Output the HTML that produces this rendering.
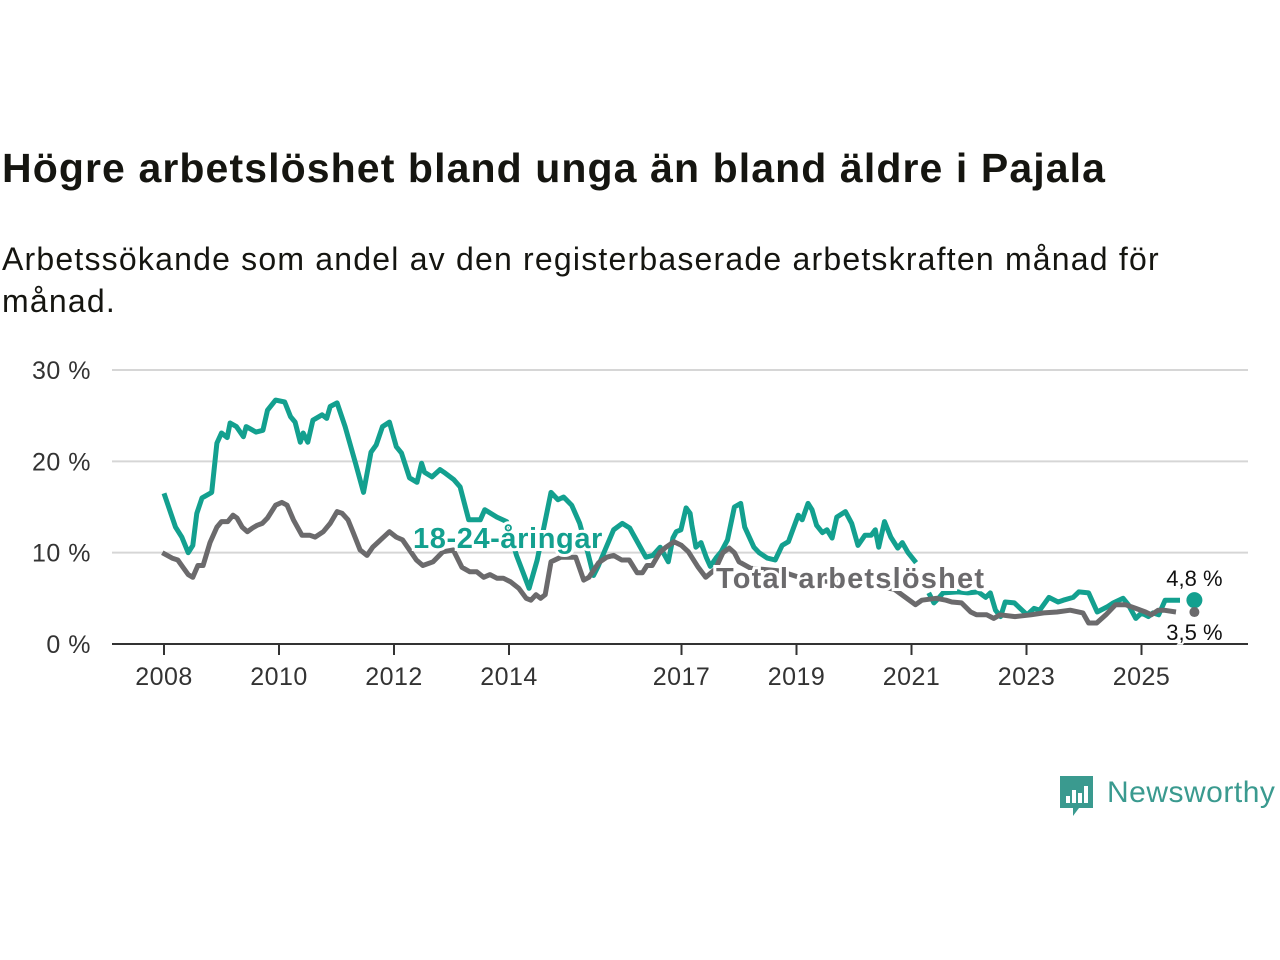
<!DOCTYPE html>
<html><head><meta charset="utf-8"><style>
body{margin:0;background:#fff;width:1280px;height:960px;overflow:hidden;font-family:"Liberation Sans","DejaVu Sans",sans-serif}
#title{position:absolute;left:2px;top:145px;font-size:41px;letter-spacing:1.1px;font-weight:bold;color:#151510;margin:0;white-space:nowrap}
#sub{position:absolute;left:2px;top:238px;font-size:32px;letter-spacing:1.2px;color:#151510;line-height:42px;width:1200px;margin:0}
svg{position:absolute;left:0;top:0}
</style></head><body>
<h1 id="title">Högre arbetslöshet bland unga än bland äldre i Pajala</h1>
<p id="sub">Arbetssökande som andel av den registerbaserade arbetskraften månad för<br>månad.</p>
<svg id="chart" width="1280" height="960"></svg>
<script>
const yTicks=[0,10,20,30];
const xTicks=[2008,2010,2012,2014,2017,2019,2021,2023,2025];
const youthX=[2008.0,2008.2,2008.31,2008.42,2008.5,2008.57,2008.66,2008.83,2008.92,2009.0,2009.1,2009.15,2009.26,2009.38,2009.43,2009.6,2009.72,2009.8,2009.94,2010.1,2010.2,2010.28,2010.37,2010.42,2010.5,2010.59,2010.75,2010.83,2010.89,2011.01,2011.15,2011.33,2011.47,2011.6,2011.69,2011.8,2011.92,2012.04,2012.13,2012.27,2012.4,2012.48,2012.53,2012.66,2012.8,2012.87,2013.04,2013.15,2013.3,2013.5,2013.58,2013.79,2013.96,2014.13,2014.35,2014.49,2014.73,2014.85,2014.95,2015.09,2015.23,2015.37,2015.47,2015.55,2015.65,2015.82,2015.97,2016.1,2016.24,2016.38,2016.5,2016.63,2016.77,2016.85,2016.91,2016.99,2017.08,2017.15,2017.18,2017.25,2017.34,2017.43,2017.5,2017.61,2017.69,2017.8,2017.92,2018.03,2018.1,2018.26,2018.35,2018.49,2018.63,2018.75,2018.86,2019.03,2019.1,2019.2,2019.27,2019.35,2019.45,2019.53,2019.62,2019.7,2019.85,2019.96,2020.07,2020.19,2020.3,2020.37,2020.43,2020.53,2020.64,2020.76,2020.84,2020.94,2021.08,null,2021.3,2021.39,2021.47,2021.55,2021.81,2021.98,2022.16,2022.29,2022.37,2022.46,2022.55,2022.63,2022.79,2022.89,2023.01,2023.13,2023.23,2023.39,2023.55,2023.64,2023.81,2023.91,2024.08,2024.23,2024.41,2024.51,2024.68,2024.77,2024.9,2025.0,2025.12,2025.2,2025.3,2025.41,2025.55,2025.67,2025.8,2025.92];
const youthY=[16.5,12.8,11.7,10.0,10.8,14.3,16.0,16.6,22.0,23.1,22.6,24.2,23.8,22.7,23.8,23.2,23.4,25.6,26.7,26.5,24.9,24.3,22.1,23.1,22.1,24.5,25.1,24.7,26.0,26.4,23.8,19.8,16.6,21.0,21.8,23.8,24.3,21.6,20.9,18.2,17.7,19.8,18.8,18.3,19.1,18.8,18.0,17.2,13.6,13.6,14.7,13.9,13.4,9.7,6.1,9.2,16.6,15.8,16.1,15.2,13.2,10.0,7.5,8.5,10.0,12.5,13.2,12.7,11.1,9.5,9.7,10.6,9.0,11.6,12.3,12.5,14.9,14.3,13.0,10.6,11.1,9.5,8.5,9.5,10.1,11.4,15.0,15.4,12.8,10.6,10.0,9.4,9.2,10.8,11.2,14.1,13.6,15.4,14.7,13.0,12.2,12.5,11.6,13.9,14.5,13.2,10.8,11.9,11.9,12.5,10.6,13.4,11.7,10.5,11.1,10.0,8.9,null,5.6,4.5,5.0,5.6,5.7,5.6,5.7,5.1,5.6,3.7,3.0,4.6,4.5,3.9,3.2,3.9,3.7,5.1,4.6,4.8,5.1,5.7,5.6,3.5,4.1,4.5,5.0,4.3,2.8,3.4,3.0,3.4,3.2,4.8,4.8,4.8];
const totalX=[2007.97,2008.14,2008.24,2008.33,2008.42,2008.5,2008.59,2008.68,2008.8,2008.92,2009.0,2009.11,2009.2,2009.27,2009.36,2009.45,2009.54,2009.62,2009.71,2009.8,2009.94,2010.05,2010.14,2010.25,2010.4,2010.54,2010.63,2010.77,2010.89,2011.01,2011.1,2011.2,2011.29,2011.41,2011.53,2011.63,2011.8,2011.92,2012.04,2012.15,2012.27,2012.39,2012.5,2012.68,2012.85,2013.03,2013.18,2013.32,2013.44,2013.56,2013.67,2013.79,2013.9,2014.03,2014.17,2014.3,2014.38,2014.47,2014.55,2014.63,2014.73,2014.9,2015.16,2015.3,2015.39,2015.56,2015.7,2015.82,2015.96,2016.09,2016.23,2016.32,2016.4,2016.49,2016.62,2016.73,2016.87,2017.0,2017.12,2017.29,2017.42,2017.59,2017.72,2017.83,2017.92,2018.0,2018.2,2018.7,2019.2,2019.7,2020.2,2020.7,2021.07,2021.18,2021.43,2021.6,2021.7,2021.87,2022.03,2022.13,2022.31,2022.43,2022.54,2022.8,2023.08,2023.3,2023.53,2023.76,2023.98,2024.08,2024.22,2024.38,2024.55,2024.72,2024.9,2025.07,2025.17,2025.29,2025.39,2025.6,2025.92];
const totalY=[10.0,9.4,9.2,8.4,7.6,7.3,8.6,8.6,11.1,12.8,13.4,13.4,14.1,13.8,12.8,12.3,12.7,13.0,13.2,13.8,15.2,15.5,15.2,13.6,11.9,11.9,11.7,12.3,13.2,14.5,14.3,13.6,12.2,10.3,9.7,10.6,11.6,12.3,11.7,11.4,10.3,9.2,8.6,9.0,10.1,10.3,8.4,7.9,7.9,7.3,7.6,7.2,7.2,6.8,6.1,5.0,4.8,5.4,5.0,5.4,9.0,9.5,9.5,7.0,7.3,8.9,9.5,9.7,9.2,9.2,7.8,7.8,8.6,8.6,10.0,10.6,11.2,10.8,10.1,8.4,7.3,8.2,10.0,10.5,10.0,9.0,8.3,8.0,7.0,6.8,6.5,6.0,4.3,4.8,5.0,4.8,4.6,4.5,3.5,3.2,3.2,2.8,3.2,3.0,3.2,3.4,3.5,3.7,3.4,2.3,2.3,3.2,4.3,4.3,3.9,3.5,3.2,3.7,3.7,3.5];
const svg=document.getElementById('chart');
const NS='http://www.w3.org/2000/svg';
const X=v=>164+(v-2008)*57.5;
const Y=v=>644-v*9.133;
function mk(tag,attrs,parent){const e=document.createElementNS(NS,tag);for(const k in attrs)e.setAttribute(k,attrs[k]);(parent||svg).appendChild(e);return e;}
yTicks.forEach(t=>{
  if(t>0){const g=mk('line',{x1:112,x2:1248,y1:Y(t),y2:Y(t),stroke:'#d6d6d6','stroke-width':2});
  
  }
  const l=mk('text',{x:91,y:Y(t)+9,'text-anchor':'end','font-size':25,'letter-spacing':0.5,fill:'#333'});l.textContent=t+' %';
  
  
});
xTicks.forEach(t=>{
  const tk=mk('line',{x1:X(t),x2:X(t),y1:644,y2:655,stroke:'#333','stroke-width':2});
  
  
  const l=mk('text',{x:X(t),y:685,'text-anchor':'middle','font-size':25,'letter-spacing':0.5,fill:'#333'});l.textContent=t;
  
  
});
const ax=mk('line',{x1:112,x2:1248,y1:644,y2:644,stroke:'#333','stroke-width':2});


function path(xs,ys){let d='',pen=false;for(let i=0;i<xs.length;i++){if(xs[i]===null||ys[i]===null){pen=false;continue;}d+=(pen?'L':'M')+X(xs[i]).toFixed(1)+','+Y(ys[i]).toFixed(1);pen=true;}return d;}
const py=mk('path',{d:path(youthX,youthY),fill:'none',stroke:'#13a08f','stroke-width':5,'stroke-linejoin':'round'});


const pt=mk('path',{d:path(totalX,totalY),fill:'none',stroke:'#6b6a6c','stroke-width':5,'stroke-linejoin':'round'});


const lx=youthX[youthX.length-1],ly=youthY[youthY.length-1];
const dy=mk('circle',{cx:X(lx),cy:Y(ly),r:8,fill:'#13a08f'});


const tx=totalX[totalX.length-1],ty=totalY[totalY.length-1];
const dt=mk('circle',{cx:X(tx),cy:Y(ty),r:5,fill:'#6b6a6c'});


const v1=mk('text',{x:X(lx),y:Y(ly)-14,'text-anchor':'middle','font-size':22,fill:'#111',stroke:'#fff','stroke-width':4,'paint-order':'stroke'});v1.textContent=String(ly).replace('.',',')+' %';


const v2=mk('text',{x:X(tx),y:Y(ty)+28,'text-anchor':'middle','font-size':22,fill:'#111',stroke:'#fff','stroke-width':4,'paint-order':'stroke'});v2.textContent=String(ty).replace('.',',')+' %';


const s1=mk('text',{x:413,y:548,'font-size':29,'letter-spacing':0.6,'font-weight':'bold',fill:'#13a08f',stroke:'#fff','stroke-width':6,'paint-order':'stroke'});s1.textContent='18-24-åringar';


const s2=mk('text',{x:716,y:588,'font-size':29,'letter-spacing':1.2,'font-weight':'bold',fill:'#6b6a6c',stroke:'#fff','stroke-width':6,'paint-order':'stroke'});s2.textContent='Total arbetslöshet';


const lg=mk('g',{});


mk('path',{d:'M1060,776 h33 v32 h-14 l-6,8 v-8 h-13 z',fill:'#3a9a8f'},lg);
[[1066,796,4,7],[1072,790,4,13],[1078,793,4,10],[1084,786,4,17]].forEach(b=>mk('rect',{x:b[0],y:b[1],width:b[2],height:b[3],fill:'#fff'},lg));
const lt=mk('text',{x:1107,y:802,'font-size':30,'letter-spacing':0.5,fill:'#3a9a8f'},lg);lt.textContent='Newsworthy';
</script>
</body></html>
